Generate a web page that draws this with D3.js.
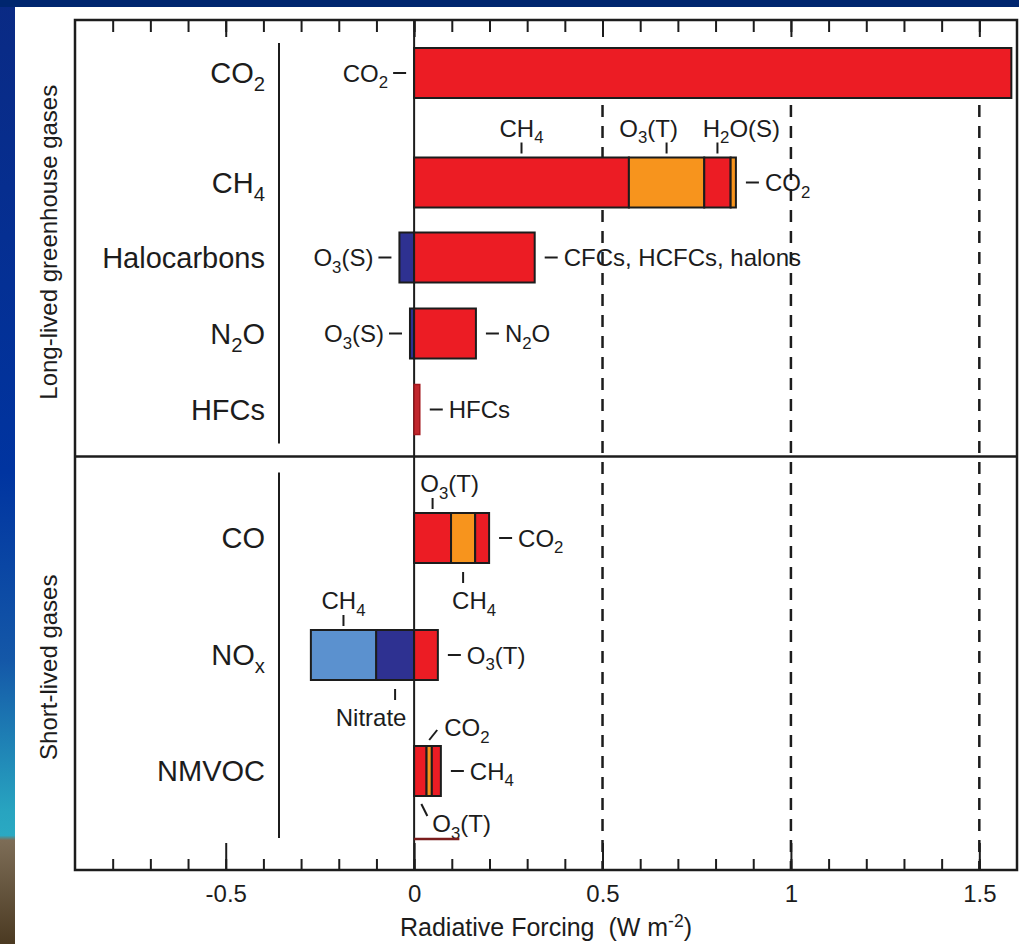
<!DOCTYPE html>
<html>
<head>
<meta charset="utf-8">
<script src="https://cdn.jsdelivr.net/npm/d3@7.9.0/dist/d3.min.js"></script>
<style>
html, body { margin: 0; padding: 0; background: #fff; overflow: hidden; }
svg { display: block; font-family: "Liberation Sans", Arial, Helvetica, sans-serif; }
text { white-space: pre; }
</style>
</head>
<body>
<svg id="chart" width="1019" height="944"></svg>
<script>
// categories (rows) and the two groups they belong to
const categories = ['CO2', 'CH4', 'Halocarbons', 'N2O', 'HFCs', 'CO', 'NOx', 'NMVOC'];
const categoryLabels = ['CO{2}', 'CH{4}', 'Halocarbons', 'N{2}O', 'HFCs', 'CO', 'NO{x}', 'NMVOC'];
const groupLabels = ['Long-lived greenhouse gases', 'Short-lived gases'];
const groupOf = [0, 0, 0, 0, 0, 1, 1, 1];

// forcing contributions per emitted compound (W m-2), listed outward from zero
const co2Names = ['CO{2}'];
const co2Values = [1.585];
const ch4Names = ['CH{4}', 'O{3}(T)', 'H{2}O(S)', 'CO{2}'];
const ch4Values = [0.57, 0.20, 0.07, 0.014];
const haloNames = ['O{3}(S)', 'CFCs, HCFCs, halons'];
const haloValues = [-0.039, 0.32];
const n2oNames = ['O{3}(S)', 'N{2}O'];
const n2oValues = [-0.011, 0.164];
const hfcNames = ['HFCs'];
const hfcValues = [0.015];
const coNames = ['O{3}(T)', 'CH{4}', 'CO{2}'];
const coValues = [0.098, 0.064, 0.037];
const noxNames = ['Nitrate', 'CH{4}', 'O{3}(T)'];
const noxValues = [-0.101, -0.173, 0.063];
const nmvocNames = ['O{3}(T)', 'CO{2}', 'CH{4}'];
const nmvocValues = [0.033, 0.014, 0.024];

// part of a further bar, cut off at the bottom of the figure
const cutBarValue = 0.12;

// axis ticks
const minorTicks = d3.range(-8, 16).map((d) => d / 10);
const majorTicks = [-0.5, 0, 0.5, 1, 1.5];
const refLines = [0.5, 1, 1.5];
const axisTitle = 'Radiative Forcing  (W m[-2])';

// ---- styles / layout ----
const RED = '#ec1c24', ORANGE = '#f7941d', NAVY = '#2e3191', LIGHTBLUE = '#5b91cf';
const segColors = {
    CO2: [RED], CH4: [RED, ORANGE, RED, ORANGE], Halocarbons: [NAVY, RED], N2O: [NAVY, RED],
    HFCs: ['#c1272d'], CO: [RED, ORANGE, RED], NOx: [NAVY, LIGHTBLUE, RED], NMVOC: [RED, ORANGE, RED],
};
const segPlace = {
    CO2: ['left'], CH4: ['above', 'above', 'above', 'right'], Halocarbons: ['left', 'right'],
    N2O: ['left', 'right'], HFCs: ['right'], CO: ['above', 'below', 'right'],
    NOx: ['below', 'above', 'right'], NMVOC: ['diagBelow', 'diagAbove', 'right'],
};
// horizontal nudges for crowded labels
const labelDx = { CH4: [0, -18, 24, 0], CO: [17, 11, 0], NOx: [-24, 0, 0] };
const INK = '#1c1c1c';
const width = 1019, height = 944;
const frame = { left: 75, right: 1017, top: 20, bottom: 870, split: 456.5 };
const barH = 50;

const x = d3.scaleLinear().domain([-0.9, 1.6]).range([frame.left, frame.right]);
const y = d3.scaleOrdinal().domain(categories)
    .range([73, 182.5, 257.5, 333.5, 409.5, 538, 655, 771]);

const svg = d3.select('#chart');

// rich text: {..} subscript, [..] superscript
function rich(sel, str) {
    const fs = parseFloat(sel.attr('font-size'));
    let shift = 0;
    str.split(/(\{[^}]*\}|\[[^\]]*\])/).filter((s) => s.length).forEach((part) => {
        const sub = part[0] === '{', sup = part[0] === '[';
        const t = sel.append('tspan').text(sub || sup ? part.slice(1, -1) : part);
        const target = sub ? fs * 0.28 : sup ? -fs * 0.38 : 0;
        if (target !== shift) t.attr('dy', target - shift);
        shift = target;
        if (sub || sup) t.attr('font-size', fs * 0.7);
    });
    return sel;
}

// slide background
const grad = svg.append('defs').append('linearGradient')
    .attr('id', 'strip').attr('x1', 0).attr('y1', 0).attr('x2', 0).attr('y2', 1);
[[0, '#0a2a84'], [0.5, '#0034a0'], [0.7, '#1458a8'], [0.86, '#28a4c0'], [0.885, '#2aa9c2'],
 [0.89, '#7d6d57'], [1, '#4b3a22']].forEach(([o, c]) => {
    grad.append('stop').attr('offset', o).attr('stop-color', c);
});
svg.append('rect').attr('width', width).attr('height', height).attr('fill', '#fff');
svg.append('rect').attr('width', 15).attr('height', height).attr('fill', 'url(#strip)');
svg.append('rect').attr('width', width).attr('height', 7).attr('fill', '#00266f');

// dashed reference lines
svg.selectAll('.ref').data(refLines).join('line')
    .attr('x1', (d) => x(d)).attr('x2', (d) => x(d))
    .attr('y1', 105).attr('y2', frame.bottom)
    .attr('stroke', INK).attr('stroke-width', 2.5).attr('stroke-dasharray', '12,9');

// axes
function styleAxis(g) {
    g.select('.domain').remove();
    g.selectAll('.tick line').attr('stroke', INK).attr('stroke-width', 2);
}
svg.append('g').attr('transform', `translate(0,${frame.top})`)
    .call(d3.axisTop(x).tickValues(minorTicks).tickSize(-12).tickFormat(''))
    .call(styleAxis);
svg.append('g').attr('transform', `translate(0,${frame.top})`)
    .call(d3.axisTop(x).tickValues(majorTicks).tickSize(-17).tickFormat(''))
    .call(styleAxis);
svg.append('g').attr('transform', `translate(0,${frame.bottom})`)
    .call(d3.axisBottom(x).tickValues(minorTicks).tickSize(-11).tickFormat(''))
    .call(styleAxis);
svg.append('g').attr('transform', `translate(0,${frame.bottom})`)
    .call(d3.axisBottom(x).tickValues(majorTicks).tickSize(-27).tickPadding(15)
        .tickFormat((d) => String(d)))
    .call(styleAxis)
    .call((g) => g.selectAll('text').attr('font-size', 24).attr('fill', INK)
        .attr('font-family', '"Liberation Sans", Arial, sans-serif'));

rich(svg.append('text').attr('x', (frame.left + frame.right) / 2).attr('y', 936)
    .attr('text-anchor', 'middle').attr('font-size', 25).attr('fill', INK), axisTitle);

// frame, zero line, group divider
svg.append('rect').attr('x', frame.left).attr('y', frame.top)
    .attr('width', frame.right - frame.left).attr('height', frame.bottom - frame.top)
    .attr('fill', 'none').attr('stroke', INK).attr('stroke-width', 2.5);
svg.append('line').attr('x1', x(0)).attr('x2', x(0)).attr('y1', frame.top).attr('y2', frame.bottom)
    .attr('stroke', INK).attr('stroke-width', 2);
svg.append('line').attr('x1', frame.left).attr('x2', frame.right)
    .attr('y1', frame.split).attr('y2', frame.split)
    .attr('stroke', INK).attr('stroke-width', 2.5);

// group titles and separators
const panels = [[frame.top, frame.split], [frame.split, frame.bottom]];
groupLabels.forEach((label, gi) => {
    const [t, b] = panels[gi];
    const cy = (t + b) / 2 + 4;
    svg.append('text').attr('transform', `translate(57,${cy}) rotate(-90)`)
        .attr('text-anchor', 'middle').attr('font-size', 24).attr('fill', INK).text(label);
    svg.append('line').attr('x1', 279).attr('x2', 279)
        .attr('y1', t + (gi === 1 ? 16 : 23)).attr('y2', b - (gi === 1 ? 32 : 13))
        .attr('stroke', INK).attr('stroke-width', 2);
});

// category labels
categories.forEach((cat, ci) => {
    rich(svg.append('text').attr('x', 265).attr('y', y(cat) + 10)
        .attr('text-anchor', 'end').attr('font-size', 29).attr('fill', INK), categoryLabels[ci]);
});

// build stacked segments
const catNames = [co2Names, ch4Names, haloNames, n2oNames, hfcNames, coNames, noxNames, nmvocNames];
const catValues = [co2Values, ch4Values, haloValues, n2oValues, hfcValues, coValues, noxValues, nmvocValues];
let segments = [];
categories.forEach((cat, ci) => {
    let pos = 0, neg = 0;
    catValues[ci].forEach((v, i) => {
        let x0, x1;
        if (v >= 0) { x0 = pos; x1 = pos + v; pos = x1; }
        else { x1 = neg; x0 = neg + v; neg = x0; }
        segments.push({ cat, i, name: catNames[ci][i], value: v, x0, x1,
            fill: segColors[cat][i], place: segPlace[cat][i],
            dx: labelDx[cat] ? labelDx[cat][i] : 0, lo: 0, hi: 0 });
    });
});
categories.forEach((cat) => {
    const segs = segments.filter((s) => s.cat === cat);
    const lo = d3.min(segs, (s) => s.x0), hi = d3.max(segs, (s) => s.x1);
    segs.forEach((s) => { s.lo = lo; s.hi = hi; });
});

// bars
svg.append('g').selectAll('rect').data(segments).join('rect')
    .attr('x', (d) => x(d.x0))
    .attr('y', (d) => y(d.cat) - barH / 2)
    .attr('width', (d) => x(d.x1) - x(d.x0))
    .attr('height', barH)
    .attr('fill', (d) => d.fill)
    .attr('stroke', (d) => (d.cat === 'HFCs' ? '#a3161c' : INK))
    .attr('stroke-width', (d) => (d.cat === 'HFCs' ? 1.5 : 2));

// annotations
const FS = 24;
const ann = svg.append('g').attr('fill', INK).attr('font-size', FS);
function leader(x1, y1, x2, y2) {
    ann.append('line').attr('x1', x1).attr('y1', y1).attr('x2', x2).attr('y2', y2)
        .attr('stroke', INK).attr('stroke-width', 2);
}
function label(px, py, anchor, str) {
    rich(ann.append('text').attr('x', px).attr('y', py).attr('text-anchor', anchor)
        .attr('font-size', FS), str);
}
segments.forEach((s) => {
    const cy = y(s.cat), top = cy - barH / 2, bot = cy + barH / 2;
    const mid = (x(s.x0) + x(s.x1)) / 2;
    if (s.place === 'right') {
        const e = x(s.hi);
        leader(e + 10, cy, e + 23, cy);
        label(e + 29, cy + 8.5, 'start', s.name);
    } else if (s.place === 'left') {
        const e = x(s.lo);
        leader(e - 8, cy, e - 21, cy);
        label(e - 26, cy + 8.5, 'end', s.name);
    } else if (s.place === 'above') {
        leader(mid, top - 4, mid, top - 15);
        label(mid + s.dx, top - 21, 'middle', s.name);
    } else if (s.place === 'below') {
        leader(mid, bot + 9, mid, bot + 20);
        label(mid + s.dx, bot + 46, 'middle', s.name);
    } else if (s.place === 'diagAbove') {
        leader(mid, top - 6, mid + 8, top - 16);
        label(mid + 15, top - 10, 'start', s.name);
    } else if (s.place === 'diagBelow') {
        leader(mid + 1, bot + 8, mid + 7, bot + 20);
        label(mid + 12, bot + 36, 'start', s.name);
    }
});

// cut-off bar at the bottom
svg.append('line').attr('x1', x(0)).attr('x2', x(cutBarValue))
    .attr('y1', 839).attr('y2', 839).attr('stroke', '#7a1c1c').attr('stroke-width', 2.5);
</script>
</body>
</html>
